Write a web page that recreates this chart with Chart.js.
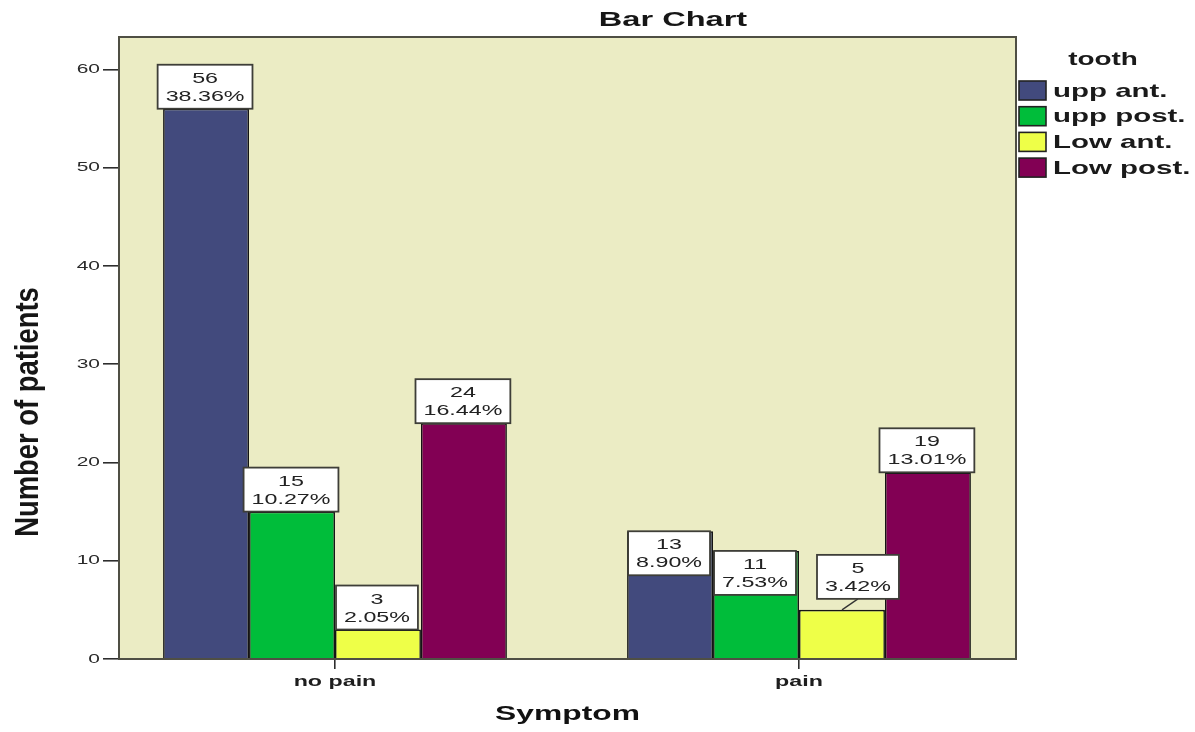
<!DOCTYPE html>
<html>
<head>
<meta charset="utf-8">
<script src="https://cdn.jsdelivr.net/npm/chart.js@4/dist/chart.umd.min.js"></script>
<style>
  html, body { margin: 0; padding: 0; background: #ffffff; }
  #wrap { width: 1195px; height: 732px; }
</style>
</head>
<body>
<div id="wrap"><canvas id="c" width="1195" height="732"></canvas></div>
<script>
// Patient counts by symptom (x categories) and tooth region (series)
const categories = ['no pain', 'pain'];
const toothGroups = ['upp ant.', 'upp post.', 'Low ant.', 'Low post.'];
const uppAnt = [56, 13];
const uppPost = [15, 11];
const lowAnt = [3, 5];
const lowPost = [24, 19];
const yTicks = [0, 10, 20, 30, 40, 50, 60];

const seriesValues = [uppAnt, uppPost, lowAnt, lowPost];
const seriesColors = ['#424a7d', '#00bd3a', '#eeff48', '#820054'];
const total = seriesValues.flat().reduce((a, b) => a + b, 0);

const FONT = "'Liberation Sans', Arial, Helvetica, sans-serif";
const TEXT_STRETCH = 1.55;   // horizontal widening applied to all canvas text
const YTITLE_STRETCH = 0.83; // condensed look for the rotated axis caption

// Widen glyphs horizontally; measureText reports the widened width so layout stays consistent
const textStretch = {
  id: 'textStretch',
  beforeInit(chart) {
    const ctx = chart.ctx;
    const fill = ctx.fillText.bind(ctx);
    const measure = ctx.measureText.bind(ctx);
    ctx.stretchX = TEXT_STRETCH;
    ctx.fillText = function (text, x, y, maxWidth) {
      const s = this.stretchX || 1;
      this.save();
      this.translate(x, y);
      this.scale(s, 1);
      if (maxWidth === undefined) fill(text, 0, 0);
      else fill(text, 0, 0, maxWidth / s);
      this.restore();
    };
    ctx.measureText = function (text) {
      const m = measure(text);
      const s = this.stretchX || 1;
      return {
        width: m.width * s,
        actualBoundingBoxAscent: m.actualBoundingBoxAscent,
        actualBoundingBoxDescent: m.actualBoundingBoxDescent,
        actualBoundingBoxLeft: m.actualBoundingBoxLeft * s,
        actualBoundingBoxRight: m.actualBoundingBoxRight * s,
        fontBoundingBoxAscent: m.fontBoundingBoxAscent,
        fontBoundingBoxDescent: m.fontBoundingBoxDescent
      };
    };
  }
};

// Pale plot background and dark frame
const plotFrame = {
  id: 'plotFrame',
  beforeDraw(chart) {
    const { ctx, chartArea: a } = chart;
    ctx.save();
    ctx.fillStyle = '#ebecc4';
    ctx.fillRect(a.left, a.top, a.width, a.height);
    ctx.restore();
  },
  afterDatasetsDraw(chart) {
    const { ctx, chartArea: a } = chart;
    ctx.save();
    ctx.strokeStyle = '#4f4f44';
    ctx.lineWidth = 2;
    ctx.strokeRect(a.left, a.top, a.width, a.height);
    ctx.restore();
  }
};

// Count + percentage boxes attached to each bar
const valueBoxes = {
  id: 'valueBoxes',
  afterDatasetsDraw(chart, args, opts) {
    const ctx = chart.ctx;
    ctx.save();
    ctx.font = `15px ${FONT}`;
    ctx.textAlign = 'center';
    ctx.textBaseline = 'middle';
    chart.data.datasets.forEach((ds, di) => {
      const meta = chart.getDatasetMeta(di);
      meta.data.forEach((bar, i) => {
        const v = ds.data[i].y;
        const lines = [String(v), (v / total * 100).toFixed(2) + '%'];
        const w = Math.max(...lines.map(t => ctx.measureText(t).width)) + 16;
        const h = 44;
        const place = opts.placement[di + ':' + i] || { mode: 'above' };
        let cx = bar.x - 1;
        let top;
        if (place.mode === 'inside') {
          top = bar.y;
        } else if (place.mode === 'lift') {
          cx = bar.x + place.dx;
          top = bar.y - place.dy - h;
          ctx.strokeStyle = '#333333';
          ctx.lineWidth = 1.3;
          ctx.beginPath();
          ctx.moveTo(bar.x, bar.y);
          ctx.lineTo(cx, top + h);
          ctx.stroke();
        } else {
          top = bar.y - h;
        }
        ctx.fillStyle = '#ffffff';
        ctx.fillRect(cx - w / 2, top, w, h);
        ctx.strokeStyle = '#3e3e38';
        ctx.lineWidth = 1.8;
        ctx.strokeRect(cx - w / 2, top, w, h);
        ctx.fillStyle = '#222222';
        ctx.fillText(lines[0], cx, top + 14);
        ctx.fillText(lines[1], cx, top + 32);
      });
    });
    ctx.restore();
  }
};

// Legend block to the right of the plot
const sideLegend = {
  id: 'sideLegend',
  afterDraw(chart, args, opts) {
    const { ctx, chartArea: a } = chart;
    const x0 = a.right + 3;
    ctx.save();
    ctx.fillStyle = '#1a1a1a';
    ctx.font = `bold 18px ${FONT}`;
    ctx.textAlign = 'center';
    ctx.textBaseline = 'middle';
    ctx.fillText(opts.title, a.right + 87, a.top + 23);
    ctx.font = `bold 19px ${FONT}`;
    ctx.textAlign = 'left';
    chart.data.datasets.forEach((ds, i) => {
      const cy = a.top + 53.5 + i * 25.7;
      ctx.fillStyle = ds.backgroundColor;
      ctx.fillRect(x0, cy - 9.5, 27, 19);
      ctx.strokeStyle = '#222222';
      ctx.lineWidth = 1.6;
      ctx.strokeRect(x0, cy - 9.5, 27, 19);
      ctx.fillStyle = '#1a1a1a';
      ctx.fillText(ds.label, x0 + 34, cy + 1);
    });
    ctx.restore();
  }
};

// Chart heading and vertical axis caption
const captions = {
  id: 'captions',
  afterDraw(chart, args, opts) {
    const { ctx, chartArea: a } = chart;
    ctx.save();
    ctx.fillStyle = '#161616';
    ctx.textAlign = 'center';
    ctx.textBaseline = 'middle';
    ctx.font = `bold 21px ${FONT}`;
    ctx.fillText(opts.heading, a.left + 554, 20);

    ctx.font = `bold 33px ${FONT}`;
    ctx.textBaseline = 'alphabetic';
    ctx.translate(a.left - 81, a.top + 375);
    ctx.rotate(-Math.PI / 2);
    ctx.stretchX = YTITLE_STRETCH;
    ctx.fillText(opts.yTitle, 0, 0);
    ctx.stretchX = TEXT_STRETCH;
    ctx.restore();
  }
};

new Chart(document.getElementById('c'), {
  type: 'bar',
  data: {
    datasets: toothGroups.map((name, k) => ({
      label: name,
      data: categories.map((c, i) => ({ x: i, y: seriesValues[k][i] })),
      backgroundColor: seriesColors[k],
      borderColor: '#141414',
      borderWidth: 1.6,
      categoryPercentage: 0.741,
      barPercentage: 1
    }))
  },
  options: {
    responsive: false,
    animation: false,
    devicePixelRatio: 1,
    layout: { padding: { top: 37, right: 179, bottom: 0, left: 0 } },
    plugins: {
      legend: { display: false },
      title: { display: false },
      tooltip: { enabled: false },
      valueBoxes: {
        placement: {
          '0:1': { mode: 'inside' },
          '1:1': { mode: 'inside' },
          '2:1': { mode: 'lift', dx: 16, dy: 11 }
        }
      },
      sideLegend: { title: 'tooth' },
      captions: { heading: 'Bar Chart', yTitle: 'Number of patients' }
    },
    scales: {
      x: {
        type: 'linear',
        offset: false,
        min: -0.4655,
        max: 1.4677,
        afterBuildTicks: s => { s.ticks = categories.map((c, i) => ({ value: i })); },
        afterFit: s => { s.height = 73; },
        ticks: {
          callback: v => categories[v],
          font: { family: FONT, size: 15, weight: 'bold' },
          color: '#1e1e1e',
          padding: 4,
          autoSkip: false,
          maxRotation: 0
        },
        grid: { display: true, offset: false, drawOnChartArea: false, drawTicks: true, tickLength: 10, color: '#2e2e2e', lineWidth: 1.6 },
        border: { display: false },
        title: {
          display: true,
          text: 'Symptom',
          font: { family: FONT, size: 20.5, weight: 'bold' },
          color: '#111111',
          padding: { top: 0, bottom: 5 }
        }
      },
      y: {
        min: 0,
        max: 63.3,
        afterBuildTicks: s => { s.ticks = yTicks.map(v => ({ value: v })); },
        afterFit: s => { s.width = 119; },
        ticks: { font: { family: FONT, size: 13.5 }, color: '#2a2a2a', padding: 3 },
        grid: { display: true, drawOnChartArea: false, drawTicks: true, tickLength: 16, color: '#2e2e2e', lineWidth: 1.6 },
        border: { display: false }
      }
    }
  },
  plugins: [textStretch, plotFrame, valueBoxes, sideLegend, captions]
});
</script>
</body>
</html>
